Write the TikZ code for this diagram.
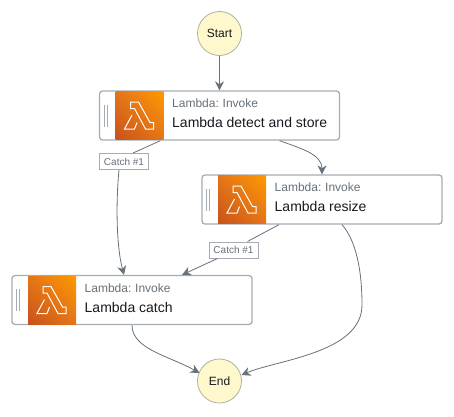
\documentclass[tikz,border=0pt]{standalone}
\usepackage{fontspec}
\setmainfont{Liberation Sans}
\usetikzlibrary{arrows.meta,shadings}
\definecolor{ink}{HTML}{16191F}
\definecolor{soft}{HTML}{687078}
\definecolor{edge}{HTML}{687078}
\definecolor{rim}{HTML}{A6ACB3}
\definecolor{circ}{HTML}{FFF8CC}
\definecolor{circrim}{HTML}{B0B0A0}
\definecolor{grA}{HTML}{C8511B}
\definecolor{grB}{HTML}{FF9900}
\definecolor{grM}{HTML}{E4751A}
\tikzset{
  x=1pt,y=-1pt,
  termnode/.style={circle,draw=circrim,fill=circ,line width=0.8pt,minimum size=44pt,inner sep=0pt,font=\fontsize{12}{14}\selectfont,text=ink},
  taskbox/.style={rectangle,rounded corners=3pt,draw=rim,fill=white,line width=1.3pt,minimum width=240pt,minimum height=49pt,inner sep=0pt},
  small/.style={anchor=base west,inner sep=0pt,font=\fontsize{12}{14}\selectfont,text=soft},
  big/.style={anchor=base west,inner sep=0pt,font=\fontsize{14}{16}\selectfont,text=ink},
  catchlabel/.style={rectangle,draw=rim,fill=white,line width=1pt,minimum width=49pt,minimum height=16pt,inner sep=0pt,font=\fontsize{10}{12}\selectfont,text=soft},
  conn/.style={draw=edge,line width=0.8pt,-{Stealth[length=9pt,width=9pt]}},
  connplain/.style={draw=edge,line width=0.8pt},
  grip/.style={draw=rim,line width=0.8pt},
  lam/.style={draw=white,line width=1pt,line join=miter}
}
\newcommand{\taskat}[4]{%
  \node[taskbox] (#1) at (#2,#3) {};
  \shade[lower left=grA,upper right=grB,upper left=grM,lower right=grM] (#2-104,#3-24) rectangle (#2-56,#3+24);
  \draw[grip] (#2-115.5,#3-11) -- (#2-115.5,#3+11) (#2-112.5,#3-11) -- (#2-112.5,#3+11);
  \draw[lam] (#2-89,#3-13.5) -- (#2-81,#3-13.5) -- (#2-69.5,#3+7) -- (#2-66,#3+7) -- (#2-66,#3+13.5) -- (#2-74,#3+13.5) -- (#2-85,#3-7) -- (#2-89,#3-7) -- cycle;
  \draw[lam] (#2-87.5,#3-0.5) -- (#2-95,#3+13.5) -- (#2-85,#3+13.5) -- (#2-82.5,#3+7);
  \node[small] (#1t) at (#2-47.5,#3-8) {Lambda:\hspace{-0.6pt} Invoke};
  \node[big] (#1n) at (#2-47.5,#3+12) {#4};
}
\begin{document}
\begin{tikzpicture}
\useasboundingbox (0,0) rectangle (454,416);
\node[termnode] (start) at (219.5,33.5) {Start};
\node[termnode] (end) at (219.5,381) {End};
\taskat{detect}{219.5}{115.5}{Lambda detect and store}
\taskat{resize}{322}{199.5}{Lambda resize}
\taskat{catch}{132}{300}{Lambda catch}
\node[catchlabel] (la) at (124,161.5) {Catch \#1};
\node[catchlabel] (lb) at (233.5,250) {Catch \#1};
\draw[conn] (start) -- (detect.north);
\draw[connplain] ([xshift=-59pt]detect.south) -- ([xshift=9pt]la.north);
\draw[conn] ([xshift=-5pt]la.south) .. controls ++(-3,30) and ++(-8,-30) .. ([xshift=-8pt]catch.north);
\draw[conn] ([xshift=60pt]detect.south) .. controls ++(22,8) and ++(0,-20) .. (resize.north);
\draw[connplain] ([xshift=-43pt]resize.south) -- ([xshift=14pt]lb.north);
\draw[conn] ([xshift=-16pt]lb.south) -- ([xshift=50pt]catch.north);
\coordinate (rmid) at (362,305);
\coordinate (endr) at (241.5,375);
\coordinate (endl) at (199.5,373);
\draw[conn] ([xshift=20pt]resize.south) .. controls ++(14,16) and ++(0,-35) .. (rmid) .. controls ++(0,48) and ++(35,-15) .. (endr);
\draw[conn] (catch.south) .. controls ++(0,24) and ++(-30,-17) .. (endl);
\end{tikzpicture}
\end{document}
